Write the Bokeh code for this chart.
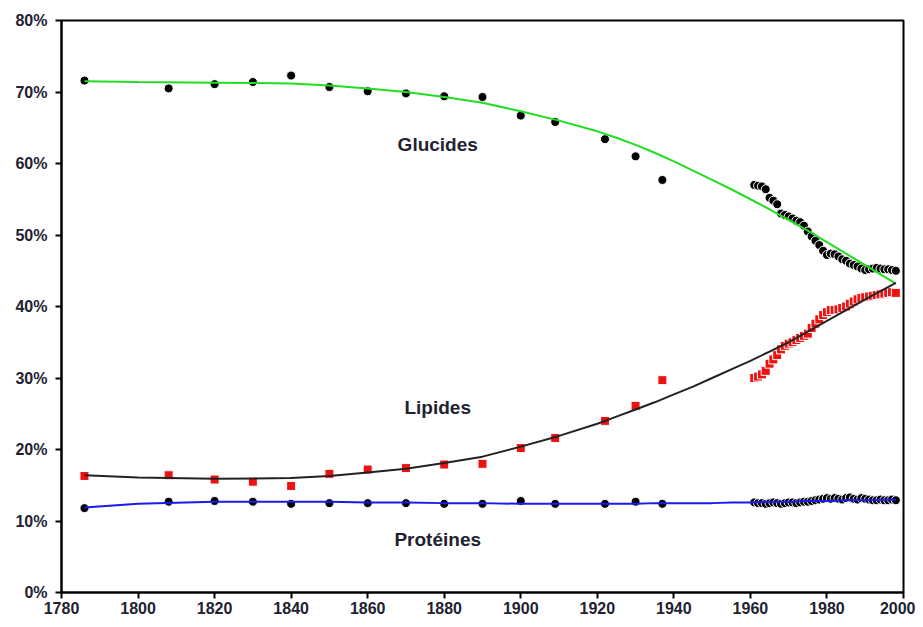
from bokeh.plotting import figure
from bokeh.models import Label, FixedTicker, CustomJSTickFormatter, Range1d
from bokeh.embed import file_html
from bokeh.resources import INLINE

# ---- historical points ----
years_hist = [1786, 1808, 1820, 1830, 1840, 1850, 1860, 1870, 1880, 1890, 1900, 1909, 1922, 1930, 1937]
glucides_hist = [71.6, 70.5, 71.1, 71.4, 72.3, 70.7, 70.1, 69.8, 69.4, 69.3, 66.7, 65.8, 63.4, 61.0, 57.7]
lipides_hist = [16.3, 16.4, 15.8, 15.5, 14.9, 16.6, 17.2, 17.4, 17.9, 18.0, 20.2, 21.6, 24.0, 26.1, 29.7]
proteines_hist = [11.8, 12.7, 12.8, 12.7, 12.4, 12.5, 12.5, 12.5, 12.4, 12.4, 12.8, 12.4, 12.4, 12.7, 12.4]

# ---- yearly points 1961-1998 ----
years_recent = list(range(1961, 1999))
glucides_recent = [57.0, 56.9, 56.8, 56.4, 55.2, 54.8, 54.3, 53.0, 52.8, 52.6,
                   52.3, 52.0, 51.8, 51.3, 50.5, 49.8, 49.2, 48.6, 47.8, 47.2,
                   47.4, 47.3, 47.0, 46.6, 46.4, 46.0, 45.8, 45.6, 45.3, 45.1,
                   45.2, 45.3, 45.4, 45.3, 45.2, 45.2, 45.1, 45.0]
lipides_recent = [30.0, 30.2, 30.5, 31.0, 32.0, 32.6, 33.2, 34.0, 34.5, 34.8,
                  35.0, 35.3, 35.6, 35.9, 36.2, 37.0, 37.6, 38.2, 38.8, 39.2,
                  39.5, 39.5, 39.6, 39.8, 40.0, 40.4, 40.7, 41.0, 41.2, 41.3,
                  41.4, 41.5, 41.6, 41.7, 41.8, 41.9, 42.0, 41.9]
proteines_recent = [12.6, 12.5, 12.5, 12.4, 12.5, 12.6, 12.5, 12.4, 12.5, 12.6,
                    12.6, 12.5, 12.6, 12.7, 12.7, 12.8, 12.9, 13.0, 13.1, 13.2,
                    13.1, 13.2, 13.1, 13.0, 13.2, 13.3, 13.1, 13.0, 13.2, 13.1,
                    13.0, 12.9, 12.9, 13.0, 12.9, 12.9, 13.0, 12.9]

# ---- trend curves ----
curve_years = [1786, 1800, 1820, 1840, 1850, 1860, 1870, 1880, 1890, 1900,
               1910, 1920, 1925, 1930, 1935, 1940, 1945, 1950, 1955, 1960,
               1965, 1970, 1975, 1980, 1985, 1990, 1998]
glucides_curve = [71.5, 71.4, 71.3, 71.2, 70.9, 70.5, 70.0, 69.3, 68.5, 67.3,
                  66.0, 64.5, 63.6, 62.6, 61.5, 60.3, 59.0, 57.7, 56.4, 55.0,
                  53.6, 52.1, 50.6, 49.0, 47.4, 45.8, 43.2]
lipides_curve = [16.4, 16.1, 15.9, 16.0, 16.3, 16.8, 17.3, 18.1, 19.0, 20.4,
                 21.9, 23.6, 24.6, 25.6, 26.6, 27.7, 28.8, 30.0, 31.2, 32.4,
                 33.7, 35.0, 36.5, 38.0, 39.5, 41.0, 43.3]
proteines_curve = [11.9, 12.4, 12.7, 12.7, 12.7, 12.6, 12.6, 12.5, 12.5, 12.4,
                   12.4, 12.4, 12.4, 12.4, 12.5, 12.5, 12.5, 12.5, 12.6, 12.6,
                   12.7, 12.7, 12.8, 12.8, 12.9, 12.9, 13.0]

x_ticks = [1780, 1800, 1820, 1840, 1860, 1880, 1900, 1920, 1940, 1960, 1980, 2000]
y_ticks = [0, 10, 20, 30, 40, 50, 60, 70, 80]

FONT = "Liberation Sans"
TXT = "#222230"

p = figure(width=915, height=619, output_backend="svg", toolbar_location=None,
           x_range=Range1d(1780, 2000), y_range=Range1d(0, 80),
           min_border_left=61, min_border_right=12, min_border_top=20, min_border_bottom=27)

p.grid.visible = False
p.outline_line_color = "black"
p.outline_line_width = 2
p.background_fill_color = "white"
p.border_fill_color = "white"

for ax in (p.xaxis[0], p.yaxis[0]):
    ax.axis_line_width = 2
    ax.axis_line_color = "black"
    ax.major_tick_line_width = 2
    ax.major_tick_line_color = "black"
    ax.major_tick_in = 0
    ax.major_tick_out = 6
    ax.minor_tick_line_color = None
    ax.major_label_text_font = FONT
    ax.major_label_text_font_style = "bold"
    ax.major_label_text_font_size = "16px"
    ax.major_label_text_color = TXT

p.xaxis[0].ticker = FixedTicker(ticks=x_ticks)
p.yaxis[0].ticker = FixedTicker(ticks=y_ticks)
p.yaxis[0].formatter = CustomJSTickFormatter(code="return tick.toFixed(0) + '%';")
p.xaxis[0].major_label_standoff = 3
p.yaxis[0].major_label_standoff = 8

# markers (white outline gives the overlapping crescent look)
for yrs, vals in ((years_hist, glucides_hist), (years_recent, glucides_recent),
                  (years_hist, proteines_hist), (years_recent, proteines_recent)):
    p.scatter(yrs, vals, marker="circle", size=9, fill_color="black",
              line_color="white", line_width=1)
for yrs, vals in ((years_hist, lipides_hist), (years_recent, lipides_recent)):
    p.scatter(yrs, vals, marker="square", size=9, fill_color="#ee1111",
              line_color="white", line_width=1)

# trend curves
p.line(curve_years, glucides_curve, line_color="#22dd22", line_width=2)
p.line(curve_years, lipides_curve, line_color="#222222", line_width=2)
p.line(curve_years, proteines_curve, line_color="#1a1aee", line_width=2)

for txt, yv in (("Glucides", 62.6), ("Lipides", 25.9), ("Protéines", 7.4)):
    p.add_layout(Label(x=1878.3, y=yv, text=txt, text_align="center",
                       text_baseline="middle", text_font=FONT,
                       text_font_style="bold", text_font_size="19px",
                       text_color=TXT))

open("out.html", "w").write(file_html(p, INLINE))
